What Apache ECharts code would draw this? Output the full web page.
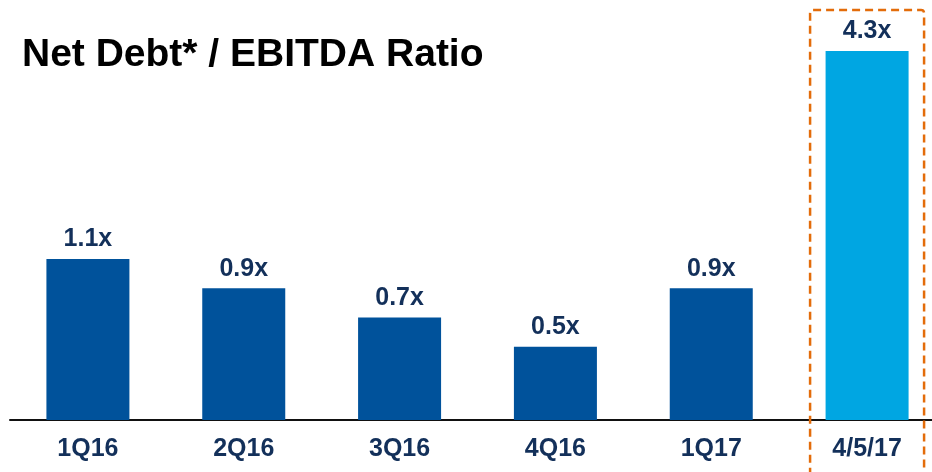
<!DOCTYPE html>
<html>
<head>
<meta charset="utf-8">
<style>
    html, body { margin: 0; padding: 0; background: #fff; overflow: hidden; }
    /* 画布比窗口略宽,轴线在右边被裁掉 */
    #chart { width: 946px; height: 472px; }
</style>
<script src="https://cdn.jsdelivr.net/npm/echarts@6/dist/echarts.min.js"></script>
</head>
<body>
<div id="chart"></div>
<script>
    // 数据
    var categories = ['1Q16', '2Q16', '3Q16', '4Q16', '1Q17', '4/5/17'];
    var ratios = [1.1, 0.9, 0.7, 0.5, 0.9, 4.3];
    var highlightCategory = '4/5/17';

    var dom = document.getElementById('chart');
    var myChart = echarts.init(dom);

    var option = {
        animation: false,
        title: {
            text: 'Net Debt* / EBITDA Ratio',
            left: 17,
            top: 31,
            textStyle: {
                color: '#000',
                fontFamily: 'Liberation Sans, Arial',
                fontWeight: 'bold',
                fontSize: 39
            }
        },
        grid: {
            left: 10,
            right: 1,
            top: 51,
            height: 369,
            containLabel: false
        },
        xAxis: {
            type: 'category',
            data: categories,
            axisTick: { show: false },
            axisLine: {
                lineStyle: { color: '#111', width: 2 }
            },
            axisLabel: {
                margin: 17,
                color: '#13305a',
                fontFamily: 'Liberation Sans, Arial',
                fontWeight: 'bold',
                fontSize: 25
            }
        },
        yAxis: {
            type: 'value',
            min: 0,
            max: 2.52, // 最后一根柱子超出范围,被截断
            show: false,
            splitLine: { show: false }
        },
        series: [{
            type: 'bar',
            barWidth: 83,
            clip: true,
            data: ratios.map(function(v, i) {
                return {
                    value: v,
                    itemStyle: {
                        color: categories[i] === highlightCategory ? '#00a6e2' : '#00529b'
                    }
                };
            }),
            label: {
                show: true,
                position: 'top',
                distance: 7,
                formatter: function(p) {
                    return p.value.toFixed(1) + 'x';
                },
                color: '#13305a',
                fontFamily: 'Liberation Sans, Arial',
                fontWeight: 'bold',
                fontSize: 25
            }
        }]
    };
    myChart.setOption(option);

    // 虚线框,位置由坐标轴换算
    var cx = myChart.convertToPixel({ xAxisIndex: 0 }, highlightCategory);
    myChart.setOption({
        graphic: [{
            type: 'rect',
            shape: { x: cx - 57, y: 10, width: 114, height: 480, r: 3 },
            style: {
                fill: 'none',
                stroke: '#e36c0a',
                lineWidth: 2.5,
                lineDash: [8, 5]
            },
            z: 10
        }]
    });
</script>
</body>
</html>
